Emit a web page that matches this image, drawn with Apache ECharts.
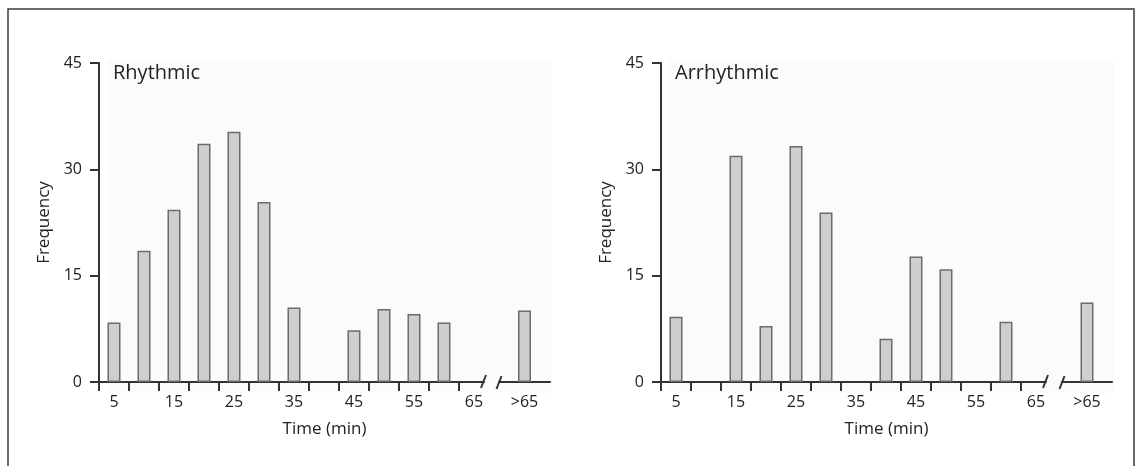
<!DOCTYPE html>
<html>
<head>
<meta charset="utf-8">
<script src="https://cdn.jsdelivr.net/npm/echarts@6/dist/echarts.min.js"></script>
<style>
html,body{margin:0;padding:0;background:#fff;}
#chart{width:1137px;height:466px;}
</style>
</head>
<body>
<div id="chart"></div>
<script>
// ---- data ----
const bins = [5, 10, 15, 20, 25, 30, 35, 40, 45, 50, 55, 60, 65];
const rhythmic = [8.4, 18.5, 24.3, 33.6, 35.3, 25.4, 10.5, 0, 7.3, 10.3, 9.6, 8.4, 0];
const rhythmicOver = [10.1];
const arrhythmic = [9.2, 0, 31.9, 7.9, 33.3, 23.9, 0, 6.1, 17.7, 15.9, 0, 8.5, 0];
const arrhythmicOver = [11.2];
const overCategory = ['>65'];
const xLabelValues = [5, 15, 25, 35, 45, 55, 65];
const yTicks = [0, 15, 30, 45];
const panelTitles = ['Rhythmic', 'Arrhythmic'];
const xName = 'Time (min)';
const yName = 'Frequency';

// ---- styles ----
const FONT = 'Open Sans';
const AX = '#333333';
const tickEdges = bins.map(b => b - 2.5);

const chart = echarts.init(document.getElementById('chart'));

const panels = [
  { left: 99, bLeft: 499, bWidth: 51, main: rhythmic, over: rhythmicOver, title: panelTitles[0] },
  { left: 661, bLeft: 1062, bWidth: 50, main: arrhythmic, over: arrhythmicOver, title: panelTitles[1] }
];

const grids = [], xAxes = [], yAxes = [], series = [], graphics = [];

graphics.push({
  type: 'rect', z: -10, silent: true,
  shape: { x: 8, y: 9, width: 1126, height: 520 },
  style: { fill: null, stroke: '#3a3a3a', lineWidth: 1.5 }
});

panels.forEach((p, i) => {
  const top = 63, height = 319;
  const gA = grids.length;
  grids.push({ left: p.left, top: top, width: 385, height: height });
  grids.push({ left: p.bLeft, top: top, width: p.bWidth, height: height });

  xAxes.push({
    gridIndex: gA, type: 'value', min: 2.5, max: 66.67,
    axisLine: { show: true, onZero: false, lineStyle: { color: AX, width: 2 } },
    axisTick: { show: true, length: 9, customValues: tickEdges, lineStyle: { color: AX, width: 2 } },
    axisLabel: { show: true, customValues: xLabelValues, margin: 12, color: '#222', fontSize: 16, fontFamily: FONT },
    splitLine: { show: false }
  });
  xAxes.push({
    gridIndex: gA + 1, type: 'category', data: overCategory,
    axisLine: { show: true, onZero: false, lineStyle: { color: AX, width: 2 } },
    axisTick: { show: false },
    axisLabel: { show: true, margin: 12, color: '#222', fontSize: 16, fontFamily: FONT }
  });
  yAxes.push({
    gridIndex: gA, type: 'value', min: yTicks[0], max: yTicks[yTicks.length - 1], interval: 15,
    name: yName, nameLocation: 'middle', nameGap: 46, nameRotate: 90,
    nameTextStyle: { color: '#222', fontSize: 17, fontFamily: FONT },
    axisLine: { show: true, lineStyle: { color: AX, width: 2 } },
    axisTick: { show: true, length: 9, lineStyle: { color: AX, width: 2 } },
    axisLabel: { margin: 17, color: '#222', fontSize: 16, fontFamily: FONT },
    splitLine: { show: false }
  });
  yAxes.push({
    gridIndex: gA + 1, type: 'value', min: yTicks[0], max: yTicks[yTicks.length - 1],
    show: false, splitLine: { show: false }
  });

  const barStyle = { color: '#cfcfd2', borderColor: '#6b6b6b', borderWidth: 1.5 };
  series.push({
    type: 'bar', xAxisIndex: gA, yAxisIndex: gA, barWidth: 13,
    itemStyle: barStyle, silent: true,
    data: bins.map((b, k) => [b, p.main[k]]).filter(d => d[1] > 0)
  });
  series.push({
    type: 'bar', xAxisIndex: gA + 1, yAxisIndex: gA + 1, barWidth: 13,
    itemStyle: barStyle, silent: true,
    data: p.over
  });

  // background panel
  graphics.push({
    type: 'rect', z: -5, silent: true,
    shape: { x: p.left + 8, y: 60, width: p.bLeft + p.bWidth - p.left - 6, height: 333 },
    style: { fill: '#fbfbfb' }
  });
  // break slashes
  const bx = p.left + 385;
  graphics.push({ type: 'line', z: 10, silent: true,
    shape: { x1: bx - 3, y1: 388, x2: bx + 2, y2: 375 }, style: { stroke: AX, lineWidth: 2 } });
  graphics.push({ type: 'line', z: 10, silent: true,
    shape: { x1: p.bLeft - 2.5, y1: 389, x2: p.bLeft + 2.5, y2: 376 }, style: { stroke: AX, lineWidth: 2 } });
  // panel title
  graphics.push({ type: 'text', z: 10, silent: true, left: p.left + 14, top: 63,
    style: { text: p.title, fill: '#222', font: '20px "' + FONT + '"' } });
  // x axis name
  const cx = (p.left + p.bLeft + p.bWidth) / 2;
  graphics.push({ type: 'text', z: 10, silent: true, x: cx, y: 421,
    style: { text: xName, fill: '#222', font: '17px "' + FONT + '"', textAlign: 'center', textVerticalAlign: 'top' } });
});

chart.setOption({
  animation: false,
  backgroundColor: '#ffffff',
  grid: grids,
  xAxis: xAxes,
  yAxis: yAxes,
  series: series,
  graphic: graphics
});
</script>
</body>
</html>
